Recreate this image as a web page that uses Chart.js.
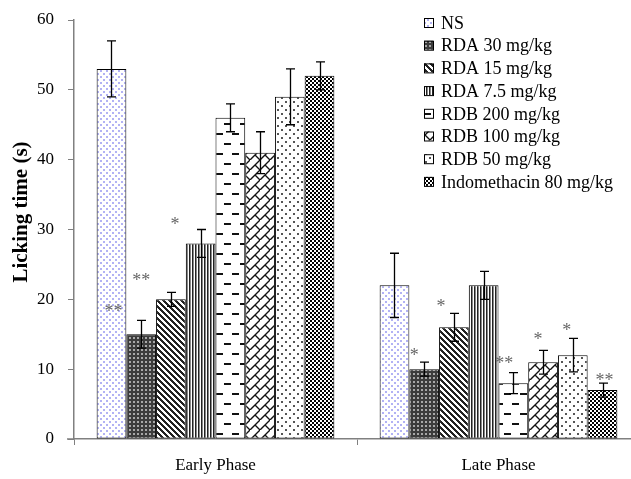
<!DOCTYPE html>
<html>
<head>
<meta charset="utf-8">
<script src="https://cdn.jsdelivr.net/npm/chart.js@4/dist/chart.umd.min.js"></script>
<style>
  html, body { margin: 0; padding: 0; background: #fff; overflow: hidden; }
  #chart { display: block; }
</style>
</head>
<body>
<canvas id="chart" width="645" height="479"></canvas>
<script>
// data
const phases = ['Early Phase', 'Late Phase'];
const groups = ['NS', 'RDA 30 mg/kg', 'RDA 15 mg/kg', 'RDA 7.5 mg/kg',
                'RDB 200 mg/kg', 'RDB 100 mg/kg', 'RDB 50 mg/kg', 'Indomethacin 80 mg/kg'];

// [early, late] per group
const ns      = [53, 22];
const rda30   = [15, 10];
const rda15   = [20, 16];
const rda75   = [28, 22];
const rdb200  = [46, 8];
const rdb100  = [41, 11];
const rdb50   = [49, 12];
const indo    = [52, 7];

const nsErr     = [4, 4.6];
const rda30Err  = [2, 1];
const rda15Err  = [1, 2];
const rda75Err  = [2, 2];
const rdb200Err = [2, 1.5];
const rdb100Err = [3, 1.7];
const rdb50Err  = [4, 2.4];
const indoErr   = [2, 1];

const yTicks = [0, 10, 20, 30, 40, 50, 60];
const yTitle = 'Licking time (s)';

// significance marks: [group index, phase index, text, level (s)]
const stars = [
    [0, 0, '**', 18.6],
    [1, 0, '**', 23],
    [2, 0, '*', 31],
    [1, 1, '*', 12.3],
    [2, 1, '*', 19.3],
    [4, 1, '**', 11.2],
    [5, 1, '*', 14.6],
    [6, 1, '*', 15.8],
    [7, 1, '**', 8.7]
];
const starShift = [[2, 0], [0, -10], [4, -13], [0, 0], [0, -9], [0, -5], [0, -6], [0, 2]];

const values = [ns, rda30, rda15, rda75, rdb200, rdb100, rdb50, indo];
const errors = [nsErr, rda30Err, rda15Err, rda75Err, rdb200Err, rdb100Err, rdb50Err, indoErr];

const canvas = document.getElementById('chart');
const ctx = canvas.getContext('2d');

function makePattern(w, h, draw) {
    const c = document.createElement('canvas');
    c.width = w; c.height = h;
    const g = c.getContext('2d');
    g.fillStyle = '#fff';
    g.fillRect(0, 0, w, h);
    draw(g, w, h);
    return ctx.createPattern(c, 'repeat');
}

const patterns = [
    // NS: light blue dots
    makePattern(6, 6, function(g) {
        g.fillStyle = '#b2b2f4';
        g.fillRect(1, 1, 2, 2);
        g.fillRect(4, 4, 2, 2);
    }),
    // RDA 30: dark small grid
    makePattern(4, 4, function(g) {
        g.fillStyle = '#3c3c3c';
        g.fillRect(0, 0, 4, 4);
        g.fillStyle = '#a8a8a8';
        g.fillRect(1, 1, 2, 2);
    }),
    // RDA 15: wide downward diagonal
    makePattern(6, 6, function(g) {
        g.fillStyle = '#222';
        for (let y = 0; y < 6; y++) {
            for (let x = 0; x < 6; x++) {
                if (((x - y) % 6 + 6) % 6 < 3) g.fillRect(x, y, 1, 1);
            }
        }
    }),
    // RDA 7.5: vertical lines
    makePattern(3, 1, function(g) {
        g.fillStyle = '#222';
        g.fillRect(0, 0, 1, 1);
        g.fillStyle = '#888';
        g.fillRect(1, 0, 1, 1);
    }),
    // RDB 200: dashed horizontal
    makePattern(16, 20, function(g) {
        g.fillStyle = '#111';
        g.fillRect(0, 3, 7, 2);
        g.fillRect(8, 13, 7, 2);
    }),
    // RDB 100: diagonal brick
    makePattern(10, 10, function(g) {
        g.strokeStyle = '#111';
        g.lineWidth = 1.4;
        g.beginPath();
        g.moveTo(-1, 11); g.lineTo(11, -1);
        g.moveTo(5, 5); g.lineTo(11, 11);
        g.stroke();
    }),
    // RDB 50: sparse dots
    makePattern(8, 8, function(g) {
        g.fillStyle = '#555';
        g.fillRect(1, 1, 2, 2);
        g.fillRect(5, 5, 2, 2);
    }),
    // Indomethacin: checker
    makePattern(4, 4, function(g) {
        g.fillStyle = '#000';
        g.fillRect(2, 0, 2, 2);
        g.fillRect(0, 2, 2, 2);
    })
];

const errorAndMarks = {
    id: 'errorAndMarks',
    afterDatasetsDraw(chart) {
        const c = chart.ctx;
        const y = chart.scales.y;
        const area = chart.chartArea;
        c.save();
        // x axis line runs a little left of the y axis
        c.strokeStyle = '#808080';
        c.lineWidth = 1.5;
        c.beginPath();
        c.moveTo(area.left - 7, area.bottom);
        c.lineTo(area.left, area.bottom);
        c.stroke();
        // y axis title, sits a bit above the middle like the original
        c.save();
        c.translate(22, 212);
        c.rotate(-Math.PI / 2);
        c.fillStyle = '#000';
        c.font = 'bold 21px "Liberation Serif"';
        c.textAlign = 'center';
        c.textBaseline = 'middle';
        c.fillText(yTitle, 0, 0);
        c.restore();
        // error bars
        c.strokeStyle = '#000';
        c.lineWidth = 1.3;
        values.forEach(function(vals, i) {
            const meta = chart.getDatasetMeta(i);
            meta.data.forEach(function(bar, j) {
                const x = Math.round(bar.x) + 0.5;
                const top = y.getPixelForValue(vals[j] + errors[i][j]);
                const bot = y.getPixelForValue(vals[j] - errors[i][j]);
                c.beginPath();
                c.moveTo(x, top); c.lineTo(x, bot);
                c.moveTo(x - 4.5, top); c.lineTo(x + 4.5, top);
                c.moveTo(x - 4.5, bot); c.lineTo(x + 4.5, bot);
                c.stroke();
            });
        });
        // asterisks
        c.fillStyle = '#666';
        c.font = '18px "Liberation Serif"';
        c.textAlign = 'center';
        c.textBaseline = 'middle';
        stars.forEach(function(s) {
            const bar = chart.getDatasetMeta(s[0]).data[s[1]];
            const dx = starShift[s[0]][s[1]];
            c.fillText(s[2], bar.x + dx, y.getPixelForValue(s[3]) + 3);
        });
        // legend
        c.font = '18px "Liberation Serif"';
        c.textAlign = 'left';
        groups.forEach(function(name, i) {
            const cy = 23 + i * 22.7;
            c.fillStyle = patterns[i];
            c.fillRect(424, cy - 5, 9, 9);
            c.strokeStyle = '#000';
            c.lineWidth = 1;
            c.strokeRect(424.5, cy - 4.5, 9, 9);
            c.fillStyle = '#000';
            c.fillText(name, 441, cy + 1);
        });
        c.restore();
    }
};

new Chart(ctx, {
    type: 'bar',
    data: {
        labels: phases,
        datasets: groups.map(function(name, i) {
            return {
                label: name,
                data: values[i],
                backgroundColor: patterns[i],
                borderColor: '#000',
                borderWidth: 1,
                borderSkipped: false,
                categoryPercentage: 0.84,
                barPercentage: 1
            };
        })
    },
    options: {
        responsive: false,
        animation: false,
        layout: { autoPadding: false, padding: { top: 20, right: 5, left: 0, bottom: 0 } },
        plugins: {
            legend: { display: false },
            tooltip: { enabled: false }
        },
        scales: {
            x: {
                grid: { drawOnChartArea: false, color: '#808080', tickLength: 6, offset: true },
                border: { color: '#808080', width: 1.5 },
                ticks: { color: '#000', font: { family: 'Liberation Serif', size: 17 }, padding: 10 },
                afterFit: function(s) { s.height = 40; }
            },
            y: {
                min: 0,
                max: 60,
                afterBuildTicks: function(s) { s.ticks = yTicks.map(v => ({ value: v })); },
                grid: { drawOnChartArea: false, color: '#808080', tickLength: 6 },
                border: { color: '#808080', width: 1.5 },
                ticks: { color: '#000', font: { family: 'Liberation Serif', size: 17 }, padding: 14 },
                afterFit: function(s) {
                    s.width = 74;
                    s.paddingTop = 0;
                    s.paddingBottom = 0;
                }
            }
        }
    },
    plugins: [errorAndMarks]
});
</script>
</body>
</html>
